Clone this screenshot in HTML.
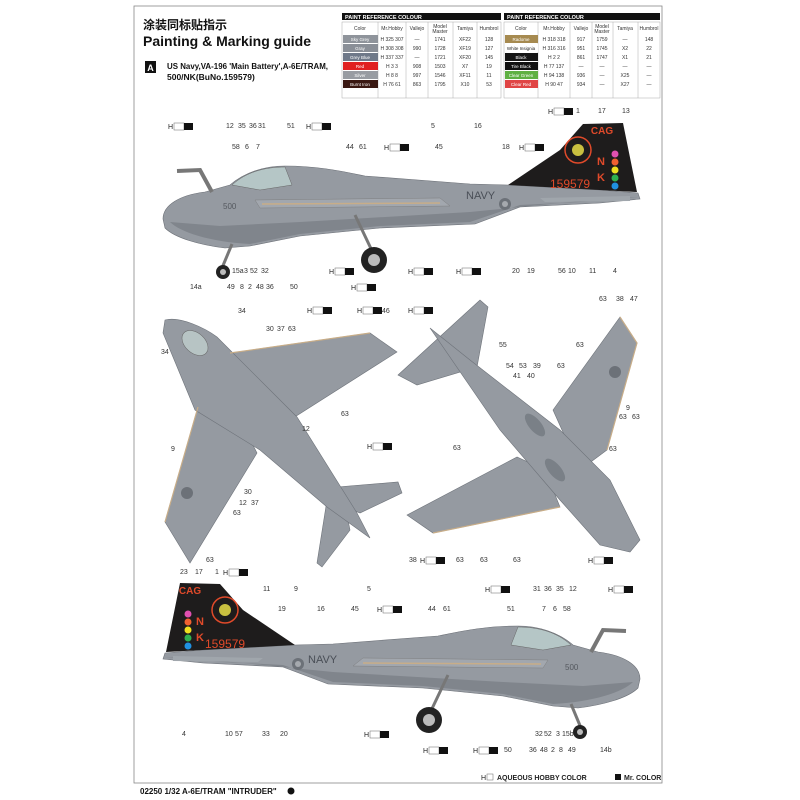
<!DOCTYPE html>
<html><head><meta charset="utf-8"><style>
html,body{margin:0;padding:0;background:#fff;}
svg{display:block;font-family:"Liberation Sans",Arial,sans-serif;}
.n{font-size:7px;fill:#333;}
.tb{font-size:5px;fill:#333;text-anchor:middle;}
.tw{font-size:4.5px;fill:#fff;text-anchor:middle;}
</style></head><body>
<svg width="800" height="800" viewBox="0 0 800 800" xmlns="http://www.w3.org/2000/svg">
<defs>
<g id="hl"><text x="0" y="0" font-size="7" fill="#222">H</text><rect x="6" y="-6" width="10" height="7" fill="#fff" stroke="#666" stroke-width="0.5"/><rect x="16" y="-6" width="9" height="7" fill="#111"/></g>
<g id="side">
 <path d="M163,219 C163,205 180,195 205,192 L230,185 C245,172 265,166 285,166 C320,166 345,172 365,176 L470,184 L508,185 L600,190 L638,193 L640,199 L600,203 L520,207 L475,224 L380,228 L300,236 L250,246 L225,248 C200,245 175,238 165,228 Z" fill="#959aa1" stroke="#6c7077" stroke-width="0.6"/>
 <path d="M170,222 C180,232 210,242 250,244 L300,234 L380,226 L470,222 L520,205 L600,201 L638,197 L600,199 L470,212 L300,222 L220,226 Z" fill="#80858c"/>
 <path d="M232,185 C246,172 265,167 285,167 L292,185 L260,190 Z" fill="#b5c6c6" stroke="#666" stroke-width="0.5"/>
 <path d="M255,200 L440,198 L450,206 L260,208 Z" fill="#a2a7ae" stroke="#777" stroke-width="0.4"/>
 <line x1="262" y1="204" x2="440" y2="203" stroke="#c8ad88" stroke-width="1.5"/>
 <path d="M508,185 L560,150 L583,124 L623,123 L637,192 Z" fill="#1e1c1c"/>
 <path d="M540,198 L630,196 L630,201 L545,202 Z" fill="#a0a6ac"/>
 <polyline points="177,171 200,170 212,192" fill="none" stroke="#777" stroke-width="4"/>
 <line x1="355" y1="215" x2="374" y2="255" stroke="#777" stroke-width="3"/>
 <circle cx="374" cy="260" r="13" fill="#222"/><circle cx="374" cy="260" r="6" fill="#bbb"/>
 <line x1="232" y1="244" x2="222" y2="268" stroke="#777" stroke-width="3"/>
 <circle cx="223" cy="272" r="7" fill="#222"/><circle cx="223" cy="272" r="3" fill="#bbb"/>
 <circle cx="505" cy="204" r="6" fill="#6c7178"/><circle cx="505" cy="204" r="3" fill="#a5a9ae"/>
 <circle cx="578" cy="150" r="13" fill="none" stroke="#e04a2a" stroke-width="1.5"/>
 <circle cx="578" cy="150" r="6" fill="#c9c040"/>
 <circle cx="615" cy="154" r="3.5" fill="#e050b0"/><circle cx="615" cy="162" r="3.5" fill="#f06030"/><circle cx="615" cy="170" r="3.5" fill="#f0e020"/><circle cx="615" cy="178" r="3.5" fill="#30b050"/><circle cx="615" cy="186" r="3.5" fill="#2090e0"/>
</g>
</defs>

<rect x="134" y="6" width="528" height="777" fill="none" stroke="#888" stroke-width="0.8"/>

<text x="143" y="29" font-size="12" font-weight="bold" font-family="'Liberation Sans','Noto Sans CJK SC',sans-serif" fill="#111">涂装同标贴指示</text>
<text x="143" y="46" font-size="14" font-weight="bold" fill="#111">Painting &amp; Marking guide</text>
<rect x="145" y="61" width="11" height="12" fill="#111"/><text x="150.5" y="71" font-size="9" font-weight="bold" fill="#fff" text-anchor="middle">A</text>
<text x="167" y="69" font-size="8.5" font-weight="bold" fill="#111" textLength="161" lengthAdjust="spacingAndGlyphs">US Navy,VA-196 'Main Battery',A-6E/TRAM,</text>
<text x="167" y="80" font-size="8.5" font-weight="bold" fill="#111">500/NK(BuNo.159579)</text>

<g>
<rect x="342" y="13" width="159" height="7" fill="#111"/><text x="345" y="19" font-size="5.5" font-weight="bold" fill="#fff">PAINT REFERENCE COLOUR</text>
<rect x="504" y="13" width="156" height="7" fill="#111"/><text x="507" y="19" font-size="5.5" font-weight="bold" fill="#fff">PAINT REFERENCE COLOUR</text>
<g stroke="#999" stroke-width="0.4" fill="none">
<rect x="342" y="22" width="159" height="76"/><rect x="504" y="22" width="156" height="76"/>
<line x1="378" y1="22" x2="378" y2="98"/><line x1="406" y1="22" x2="406" y2="98"/><line x1="428" y1="22" x2="428" y2="98"/><line x1="453" y1="22" x2="453" y2="98"/><line x1="477" y1="22" x2="477" y2="98"/>
<line x1="538" y1="22" x2="538" y2="98"/><line x1="570" y1="22" x2="570" y2="98"/><line x1="592" y1="22" x2="592" y2="98"/><line x1="613" y1="22" x2="613" y2="98"/><line x1="638" y1="22" x2="638" y2="98"/>
</g>
<g class="tb"><text x="360" y="30">Color</text><text x="392" y="30">Mr.Hobby</text><text x="417" y="30">Vallejo</text><text x="440" y="28">Model</text><text x="440" y="33">Master</text><text x="465" y="30">Tamiya</text><text x="489" y="30">Humbrol</text>
<text x="521" y="30">Color</text><text x="554" y="30">Mr.Hobby</text><text x="581" y="30">Vallejo</text><text x="602" y="28">Model</text><text x="602" y="33">Master</text><text x="625" y="30">Tamiya</text><text x="649" y="30">Humbrol</text></g>
<rect x="343" y="35" width="35" height="8" fill="#8f949b"/><rect x="343" y="44" width="35" height="8" fill="#8a8f97"/><rect x="343" y="53" width="35" height="8" fill="#6f7989"/><rect x="343" y="62" width="35" height="8" fill="#e02020"/><rect x="343" y="71" width="35" height="8" fill="#989ca2"/><rect x="343" y="80" width="35" height="8" fill="#3a1812"/>
<rect x="505" y="35" width="33" height="8" fill="#a68a50"/><rect x="505" y="44" width="33" height="8" fill="#fff"/><rect x="505" y="53" width="33" height="8" fill="#151515"/><rect x="505" y="62" width="33" height="8" fill="#111"/><rect x="505" y="71" width="33" height="8" fill="#5fb043"/><rect x="505" y="80" width="33" height="8" fill="#e04545"/>
<g class="tw"><text x="360" y="41">Sky Grey</text><text x="360" y="50">Gray</text><text x="360" y="59">Grey Blue</text><text x="360" y="68">Red</text><text x="360" y="77">Silver</text><text x="360" y="86">Burnt Iron</text>
<text x="521" y="41">Radome</text><text x="521" y="50" style="fill:#222">White Insignia</text><text x="521" y="59">Black</text><text x="521" y="68">Tire Black</text><text x="521" y="77">Clear Green</text><text x="521" y="86">Clear Red</text></g>
<g class="tb">
<text x="392" y="41">H 325 307</text><text x="417" y="41">—</text><text x="440" y="41">1741</text><text x="465" y="41">XF22</text><text x="489" y="41">128</text>
<text x="392" y="50">H 308 308</text><text x="417" y="50">990</text><text x="440" y="50">1728</text><text x="465" y="50">XF19</text><text x="489" y="50">127</text>
<text x="392" y="59">H 337 337</text><text x="417" y="59">—</text><text x="440" y="59">1721</text><text x="465" y="59">XF20</text><text x="489" y="59">145</text>
<text x="392" y="68">H 3 3</text><text x="417" y="68">908</text><text x="440" y="68">1503</text><text x="465" y="68">X7</text><text x="489" y="68">19</text>
<text x="392" y="77">H 8 8</text><text x="417" y="77">997</text><text x="440" y="77">1546</text><text x="465" y="77">XF11</text><text x="489" y="77">11</text>
<text x="392" y="86">H 76 61</text><text x="417" y="86">863</text><text x="440" y="86">1795</text><text x="465" y="86">X10</text><text x="489" y="86">53</text>
<text x="554" y="41">H 318 318</text><text x="581" y="41">917</text><text x="602" y="41">1759</text><text x="625" y="41">—</text><text x="649" y="41">148</text>
<text x="554" y="50">H 316 316</text><text x="581" y="50">951</text><text x="602" y="50">1745</text><text x="625" y="50">X2</text><text x="649" y="50">22</text>
<text x="554" y="59">H 2 2</text><text x="581" y="59">861</text><text x="602" y="59">1747</text><text x="625" y="59">X1</text><text x="649" y="59">21</text>
<text x="554" y="68">H 77 137</text><text x="581" y="68">—</text><text x="602" y="68">—</text><text x="625" y="68">—</text><text x="649" y="68">—</text>
<text x="554" y="77">H 94 138</text><text x="581" y="77">936</text><text x="602" y="77">—</text><text x="625" y="77">X25</text><text x="649" y="77">—</text>
<text x="554" y="86">H 90 47</text><text x="581" y="86">934</text><text x="602" y="86">—</text><text x="625" y="86">X27</text><text x="649" y="86">—</text>
</g>
</g>

<use href="#side"/>
<text x="602" y="134" font-size="10" font-weight="bold" fill="#e04a2a" text-anchor="middle">CAG</text>
<text x="597" y="165" font-size="11" font-weight="bold" fill="#e04a2a">N</text>
<text x="597" y="181" font-size="11" font-weight="bold" fill="#e04a2a">K</text>
<text x="550" y="188" font-size="12" fill="#e04a2a">159579</text>
<text x="466" y="199" font-size="11" fill="#4a4f57">NAVY</text>
<text x="223" y="209" font-size="8" fill="#55595f">500</text>

<use href="#side" transform="translate(803,460) scale(-1,1)"/>
<text x="190" y="594" font-size="10" font-weight="bold" fill="#e04a2a" text-anchor="middle">CAG</text>
<text x="196" y="625" font-size="11" font-weight="bold" fill="#e04a2a">N</text>
<text x="196" y="641" font-size="11" font-weight="bold" fill="#e04a2a">K</text>
<text x="205" y="648" font-size="12" fill="#e04a2a">159579</text>
<text x="308" y="663" font-size="11" fill="#4a4f57">NAVY</text>
<text x="565" y="670" font-size="8" fill="#55595f">500</text>

<g fill="#959aa1" stroke="#6e737a" stroke-width="0.6">
<polygon points="230,353 370,333 397,352 290,420 260,440"/>
<polygon points="198,407 165,522 190,563 257,453 240,420"/>
<polygon points="337,487 398,482 402,493 360,513 340,505"/>
<polygon points="327,500 317,563 322,567 350,530 345,505"/>
<path d="M165,320 C180,316 205,328 217,337 L297,417 L357,513 L370,538 L327,507 L260,450 L195,410 L163,333 Z"/>
</g>
<polyline points="230,353 370,333" stroke="#c8ad88" stroke-width="1.2" fill="none"/>
<polyline points="198,407 165,522" stroke="#c8ad88" stroke-width="1.2" fill="none"/>
<ellipse cx="195" cy="343" rx="15" ry="10" transform="rotate(42 195 343)" fill="#b7c4c4" stroke="#666" stroke-width="0.5"/>
<circle cx="187" cy="493" r="6" fill="#6c7178"/>
<g fill="#959aa1" stroke="#6e737a" stroke-width="0.6">
<polygon points="398,375 480,300 488,307 477,367 417,385"/>
<polygon points="553,410 620,317 637,343 607,450 580,470"/>
<polygon points="517,457 407,515 433,533 560,507 545,470"/>
<path d="M430,328 L470,360 L560,430 L610,480 L640,540 L630,552 L600,545 L560,500 L500,430 Z"/>
</g>
<polyline points="620,317 637,343 607,450" stroke="#c8ad88" stroke-width="1.2" fill="none"/>
<polyline points="433,533 560,507" stroke="#c8ad88" stroke-width="1.2" fill="none"/>
<circle cx="615" cy="372" r="6" fill="#6c7178"/>
<ellipse cx="535" cy="425" rx="14" ry="6" transform="rotate(50 535 425)" fill="#7a8087"/>
<ellipse cx="555" cy="470" rx="14" ry="6" transform="rotate(50 555 470)" fill="#7a8087"/>

<g class="n">
<text x="226" y="128">12</text><text x="238" y="128">35</text><text x="249" y="128">36</text><text x="258" y="128">31</text><text x="287" y="128">51</text><text x="431" y="128">5</text><text x="474" y="128">16</text>
<text x="232" y="149">58</text><text x="245" y="149">6</text><text x="256" y="149">7</text><text x="346" y="149">44</text><text x="359" y="149">61</text><text x="435" y="149">45</text><text x="502" y="149">18</text>
<text x="576" y="113">1</text><text x="598" y="113">17</text><text x="622" y="113">13</text>
<text x="232" y="273">15a</text><text x="244" y="273">3</text><text x="250" y="273">52</text><text x="261" y="273">32</text><text x="512" y="273">20</text><text x="527" y="273">19</text><text x="558" y="273">56</text><text x="568" y="273">10</text><text x="589" y="273">11</text><text x="613" y="273">4</text>
<text x="190" y="289">14a</text><text x="227" y="289">49</text><text x="240" y="289">8</text><text x="248" y="289">2</text><text x="256" y="289">48</text><text x="266" y="289">36</text><text x="290" y="289">50</text>
</g>
<use href="#hl" x="168" y="129"/><use href="#hl" x="306" y="129"/><use href="#hl" x="384" y="150"/><use href="#hl" x="519" y="150"/><use href="#hl" x="548" y="114"/>
<use href="#hl" x="329" y="274"/><use href="#hl" x="408" y="274"/><use href="#hl" x="456" y="274"/><use href="#hl" x="351" y="290"/>

<g class="n">
<text x="238" y="313">34</text><text x="382" y="313">46</text><text x="266" y="331">30</text><text x="277" y="331">37</text><text x="288" y="331">63</text>
<text x="161" y="354">34</text><text x="499" y="347">55</text><text x="576" y="347">63</text>
<text x="506" y="368">54</text><text x="519" y="368">53</text><text x="533" y="368">39</text><text x="557" y="368">63</text><text x="513" y="378">41</text><text x="527" y="378">40</text>
<text x="341" y="416">63</text><text x="302" y="431">12</text><text x="626" y="410">9</text><text x="619" y="419">63</text><text x="632" y="419">63</text>
<text x="171" y="451">9</text><text x="453" y="450">63</text><text x="609" y="451">63</text>
<text x="244" y="494">30</text><text x="239" y="505">12</text><text x="251" y="505">37</text><text x="233" y="515">63</text>
<text x="206" y="562">63</text><text x="409" y="562">38</text><text x="456" y="562">63</text><text x="480" y="562">63</text><text x="513" y="562">63</text>
<text x="599" y="301">63</text><text x="616" y="301">38</text><text x="630" y="301">47</text>
</g>
<use href="#hl" x="307" y="313"/><use href="#hl" x="357" y="313"/><use href="#hl" x="408" y="313"/><use href="#hl" x="367" y="449"/><use href="#hl" x="420" y="563"/><use href="#hl" x="588" y="563"/>

<g class="n">
<text x="180" y="574">23</text><text x="195" y="574">17</text><text x="215" y="574">1</text>
<text x="263" y="591">11</text><text x="294" y="591">9</text><text x="367" y="591">5</text><text x="533" y="591">31</text><text x="544" y="591">36</text><text x="556" y="591">35</text><text x="569" y="591">12</text>
<text x="278" y="611">19</text><text x="317" y="611">16</text><text x="351" y="611">45</text><text x="428" y="611">44</text><text x="443" y="611">61</text><text x="507" y="611">51</text><text x="542" y="611">7</text><text x="553" y="611">6</text><text x="563" y="611">58</text>
<text x="182" y="736">4</text><text x="225" y="736">10</text><text x="235" y="736">57</text><text x="262" y="736">33</text><text x="280" y="736">20</text><text x="535" y="736">32</text><text x="544" y="736">52</text><text x="556" y="736">3</text><text x="562" y="736">15b</text>
<text x="504" y="752">50</text><text x="529" y="752">36</text><text x="540" y="752">48</text><text x="551" y="752">2</text><text x="559" y="752">8</text><text x="568" y="752">49</text><text x="600" y="752">14b</text>
</g>
<use href="#hl" x="223" y="575"/><use href="#hl" x="485" y="592"/><use href="#hl" x="608" y="592"/><use href="#hl" x="377" y="612"/><use href="#hl" x="364" y="737"/><use href="#hl" x="423" y="753"/><use href="#hl" x="473" y="753"/>

<text x="481" y="780" font-size="7" fill="#222">H</text><rect x="487" y="774" width="6" height="6" fill="#fff" stroke="#666" stroke-width="0.5"/>
<text x="497" y="780" font-size="7" font-weight="bold" fill="#222">AQUEOUS HOBBY COLOR</text>
<rect x="615" y="774" width="6" height="6" fill="#111"/><text x="624" y="780" font-size="7" font-weight="bold" fill="#222">Mr. COLOR</text>
<text x="140" y="794" font-size="8" font-weight="bold" fill="#111">02250 1/32  A-6E/TRAM "INTRUDER"</text>
<circle cx="291" cy="791" r="3.5" fill="#111"/>
</svg>
</body></html>
